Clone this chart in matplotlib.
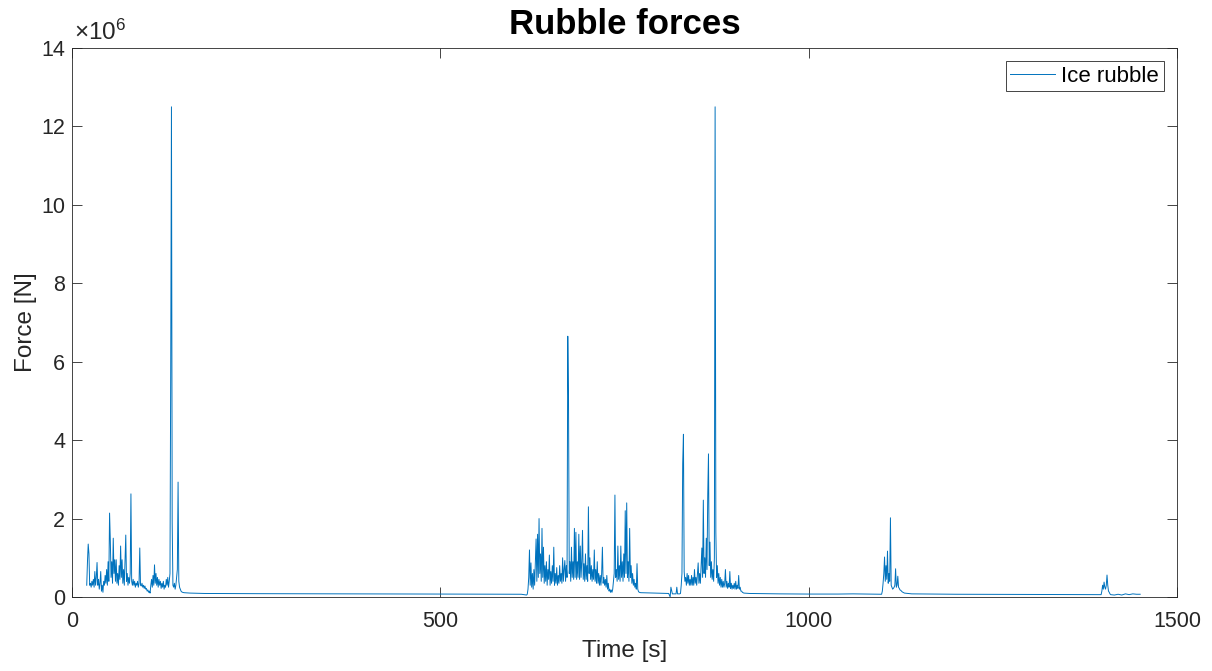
import numpy as np
import matplotlib
matplotlib.use("Agg")
import matplotlib.pyplot as plt
from matplotlib.ticker import FuncFormatter

plt.rcParams['font.family'] = ['Liberation Sans', 'DejaVu Sans']
plt.rcParams['mathtext.fontset'] = 'custom'
plt.rcParams['mathtext.rm'] = 'Liberation Sans'
plt.rcParams['mathtext.it'] = 'Liberation Sans'

# ---- data (force values in MN) ----
# event A: sampled every 1 s starting at 20 s
evA_start = 20
evA_force = [0.3, 0.9, 1.35, 1.1, 0.3, 0.35, 0.25, 0.4, 0.3, 0.45,
             0.25, 0.65, 0.3, 0.5, 0.88, 0.3, 0.45, 0.2, 0.35, 0.65,
             0.15, 0.3, 0.12, 0.4, 0.3, 0.55, 0.35, 0.7, 0.3, 0.9,
             0.4, 2.14, 1.45, 0.5, 0.9, 0.35, 1.5, 0.6, 0.95, 0.4,
             0.95, 0.35, 0.6, 0.3, 0.8, 0.45, 1.3, 0.5, 0.95, 0.35,
             0.7, 0.3, 0.9, 1.58, 0.4, 0.6, 0.3, 0.5, 0.35, 0.6,
             2.63, 0.4, 0.3, 0.45, 0.3, 0.4, 0.25, 0.35, 0.3, 0.4,
             0.25, 0.35, 1.25, 0.3, 0.28, 0.35, 0.25, 0.3, 0.22, 0.28,
             0.2, 0.22, 0.15, 0.18, 0.12, 0.15, 0.1, 0.3, 0.45, 0.25,
             0.55, 0.3, 0.82, 0.35, 0.6, 0.3, 0.5, 0.25, 0.45, 0.3,
             0.4, 0.22, 0.35, 0.25, 0.4, 0.2, 0.3, 0.25, 0.45, 0.3,
             0.5, 0.25, 0.4, 0.6, 5.8, 12.5, 1.9, 0.3, 0.25, 0.35,
             0.2, 0.3, 0.5, 0.7, 2.93, 0.4, 0.25, 0.2, 0.15, 0.13,
             0.12]

evB_start = 618
evB_force = [0.07, 0.2, 0.5, 1.2, 0.3, 0.87, 0.25, 0.6, 0.2, 0.7,
             0.3, 0.9, 1.48, 0.4, 1.6, 0.5, 2.0, 0.6, 1.1, 0.4,
             1.75, 0.5, 1.27, 0.35, 0.8, 0.4, 0.9, 0.3, 0.7, 0.45,
             1.07, 0.3, 0.65, 0.35, 0.8, 0.4, 1.27, 0.3, 0.6, 0.35,
             0.75, 0.3, 0.55, 0.35, 0.8, 0.4, 0.6, 0.35, 1.0, 0.4,
             0.7, 0.93, 0.4, 0.8, 0.5, 6.65, 5.05, 0.6, 0.9, 0.4,
             1.27, 0.5, 0.9, 0.45, 1.75, 0.5, 1.65, 0.45, 0.9, 0.5,
             1.6, 0.45, 1.3, 0.5, 0.9, 1.7, 0.45, 0.85, 0.4, 1.1,
             0.45, 0.8, 0.4, 2.3, 0.6, 1.0, 0.45, 0.8, 0.4, 0.7,
             0.45, 1.2, 0.4, 0.7, 0.35, 0.9, 0.35, 0.6, 0.3, 0.55,
             0.3, 0.6, 1.27, 0.35, 0.5, 0.3, 0.45, 0.25, 0.55, 0.2,
             0.35, 0.15, 0.2, 0.12, 0.18, 0.12, 0.2, 0.4, 0.6, 2.6,
             0.5, 0.7, 0.4, 1.3, 0.45, 0.8, 0.4, 1.3, 0.5, 0.9,
             0.4, 1.1, 0.5, 2.2, 0.6, 2.4, 0.5, 0.9, 0.4, 1.75,
             0.5, 0.8, 0.35, 0.6, 0.3, 0.45, 0.25, 0.35, 0.2, 0.85,
             0.2, 0.14, 0.12]

evC_start = 826
evC_force = [0.09, 0.3, 0.6, 3.4, 4.15, 0.65, 0.4, 0.5, 0.3, 0.6,
             0.35, 0.55, 0.3, 0.45, 0.3, 0.55, 0.3, 0.5, 0.3, 0.7,
             0.35, 0.5, 0.3, 0.6, 0.87, 0.35, 0.6, 0.35, 0.8, 1.25,
             0.5, 2.47, 0.6, 1.0, 0.5, 1.5, 0.7, 2.6, 3.65, 0.8,
             1.4, 0.5, 0.9, 0.45, 0.7, 0.4, 1.0, 12.5, 1.65, 0.5,
             0.8, 0.35, 0.6, 0.3, 0.5, 0.25, 0.45, 0.25, 0.4, 0.25,
             0.35, 0.7, 0.25, 0.4, 0.22, 0.35, 0.25, 0.65, 0.22, 0.35,
             0.2, 0.3, 0.22, 0.35, 0.2, 0.4, 0.2, 0.3, 0.22, 0.55,
             0.2, 0.25, 0.15, 0.15, 0.12, 0.11, 0.1]

evD_start = 1099
evD_force = [0.07, 0.15, 0.35, 0.6, 1.02, 0.4, 0.8, 0.45, 1.17, 0.35,
             0.6, 0.4, 2.02, 0.3, 0.25, 0.2, 0.22, 0.25, 0.3, 0.72,
             0.25, 0.3, 0.53, 0.25, 0.22, 0.18, 0.17, 0.15, 0.13, 0.12,
             0.11, 0.1]

evE_start = 1397
evE_force = [0.06, 0.15, 0.3, 0.2, 0.38, 0.25, 0.2, 0.3, 0.56, 0.3,
             0.15, 0.12, 0.08, 0.06]

# quiet stretches between events (time s, force MN)
quiet_time = [152, 160, 180, 250, 400, 500, 610, 617,
              772, 790, 810, 812, 813, 815, 820, 821, 822, 825,
              920, 960, 1000, 1040, 1060, 1098,
              1140, 1200, 1300, 1396,
              1415, 1420, 1425, 1430, 1435, 1440, 1445, 1450]
quiet_force = [0.11, 0.1, 0.09, 0.085, 0.08, 0.075, 0.07, 0.05,
               0.11, 0.1, 0.09, 0.0, 0.25, 0.08, 0.08, 0.25, 0.08, 0.08,
               0.09, 0.08, 0.075, 0.075, 0.08, 0.07,
               0.08, 0.07, 0.065, 0.06,
               0.05, 0.07, 0.05, 0.08, 0.06, 0.08, 0.07, 0.07]

x_ticks = [0, 500, 1000, 1500]
y_ticks_mn = [0, 2, 4, 6, 8, 10, 12, 14]

events = [(evA_start, evA_force), (evB_start, evB_force), (evC_start, evC_force),
          (evD_start, evD_force), (evE_start, evE_force)]

times = [np.asarray(quiet_time, float)]
forces = [np.asarray(quiet_force, float)]
for start, vals in events:
    times.append(start + np.arange(len(vals), dtype=float))
    forces.append(np.asarray(vals, float))
t = np.concatenate(times)
f = np.concatenate(forces) * 1e6
order = np.argsort(t, kind='stable')
t, f = t[order], f[order]

# ---- figure ----
txt = '#262626'
fig = plt.figure(figsize=(12.12, 6.71), dpi=100)
ax = fig.add_axes([72/1212, 1 - 597/671, 1105/1212, 549/671])
ax.plot(t, f, color='#0072BD', linewidth=0.7, label='Ice rubble')

ax.set_xlim(0, 1500)
ax.set_ylim(0, 14e6)
ax.set_xticks(x_ticks)
ax.set_yticks([v * 1e6 for v in y_ticks_mn])
ax.yaxis.set_major_formatter(FuncFormatter(lambda v, p: f"{v/1e6:g}"))
ax.text(0.002, 1.006, r'$\times10^{6}$', transform=ax.transAxes,
        fontsize=17.5, color=txt, ha='left', va='bottom')

ax.tick_params(direction='in', length=7, width=0.6, labelsize=15.5,
               colors=txt, top=True, right=True)
ax.tick_params(axis='x', pad=10)
ax.tick_params(axis='y', pad=5)
for s in ax.spines.values():
    s.set_linewidth(0.6)
    s.set_color(txt)

ax.set_xlabel('Time [s]', fontsize=17.5, color=txt, labelpad=6)
ax.set_ylabel('Force [N]', fontsize=17.5, color=txt, labelpad=3)
ax.set_title('Rubble forces', fontsize=25, fontweight='bold', pad=10)

leg = ax.legend(loc='upper right', fontsize=16, fancybox=False, framealpha=1,
                edgecolor=txt, borderpad=0.2, handlelength=2.0,
                handletextpad=0.3, borderaxespad=0.6)
leg.get_frame().set_linewidth(0.6)

fig.savefig('out.png', dpi=100)
